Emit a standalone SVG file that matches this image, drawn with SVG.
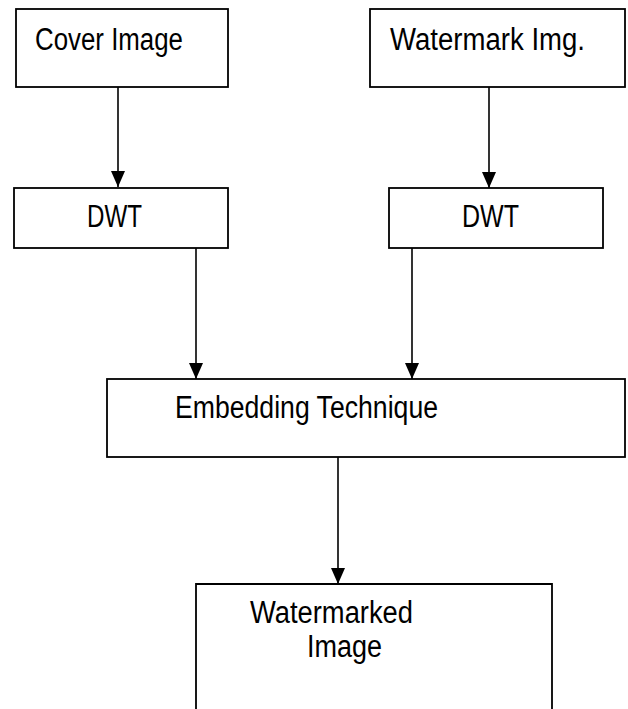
<svg xmlns="http://www.w3.org/2000/svg" width="628" height="709" viewBox="0 0 628 709">
<style>
.box{fill:#fff;stroke:#000;stroke-width:1.8}
.lbl{font-family:"Liberation Sans Narrow","Arial Narrow","Liberation Sans",sans-serif;font-size:31px;fill:#000}
.ln{stroke:#000;stroke-width:1.6;fill:none}
</style>
<defs>
<marker id="ah" viewBox="0 0 16 14" refX="16" refY="7" markerWidth="16" markerHeight="14" markerUnits="userSpaceOnUse" orient="auto">
<path d="M0,0 L16,7 L0,14 Z" fill="#000"/>
</marker>
</defs>
<rect width="628" height="709" fill="#fff"/>
<g id="connectors">
<line class="ln" x1="118" y1="87" x2="118" y2="187" marker-end="url(#ah)"/>
<line class="ln" x1="489" y1="87" x2="489" y2="188" marker-end="url(#ah)"/>
<line class="ln" x1="196" y1="248" x2="196" y2="379" marker-end="url(#ah)"/>
<line class="ln" x1="412" y1="248" x2="412" y2="379" marker-end="url(#ah)"/>
<line class="ln" x1="338" y1="457" x2="338" y2="584" marker-end="url(#ah)"/>
</g>
<g id="cover">
<rect class="box" x="16" y="9" width="212" height="78"/>
<text class="lbl" x="35" y="50" textLength="148" lengthAdjust="spacingAndGlyphs">Cover Image</text>
</g>
<g id="watermark">
<rect class="box" x="370" y="9" width="255" height="78"/>
<text class="lbl" x="390" y="50" textLength="195" lengthAdjust="spacingAndGlyphs">Watermark Img.</text>
</g>
<g id="dwt1">
<rect class="box" x="14" y="188" width="214" height="60"/>
<text class="lbl" x="87" y="227" textLength="55" lengthAdjust="spacingAndGlyphs">DWT</text>
</g>
<g id="dwt2">
<rect class="box" x="389" y="188" width="214" height="60"/>
<text class="lbl" x="462" y="227" textLength="57" lengthAdjust="spacingAndGlyphs">DWT</text>
</g>
<g id="embed">
<rect class="box" x="107" y="379" width="518" height="78"/>
<text class="lbl" x="175" y="418" textLength="263" lengthAdjust="spacingAndGlyphs">Embedding Technique</text>
</g>
<g id="watermarked">
<path class="box" style="fill:none" d="M196,712 V584 H552 V712"/>
<text class="lbl" x="250" y="623" textLength="163" lengthAdjust="spacingAndGlyphs">Watermarked</text>
<text class="lbl" x="307" y="657" textLength="75" lengthAdjust="spacingAndGlyphs">Image</text>
</g>
</svg>
